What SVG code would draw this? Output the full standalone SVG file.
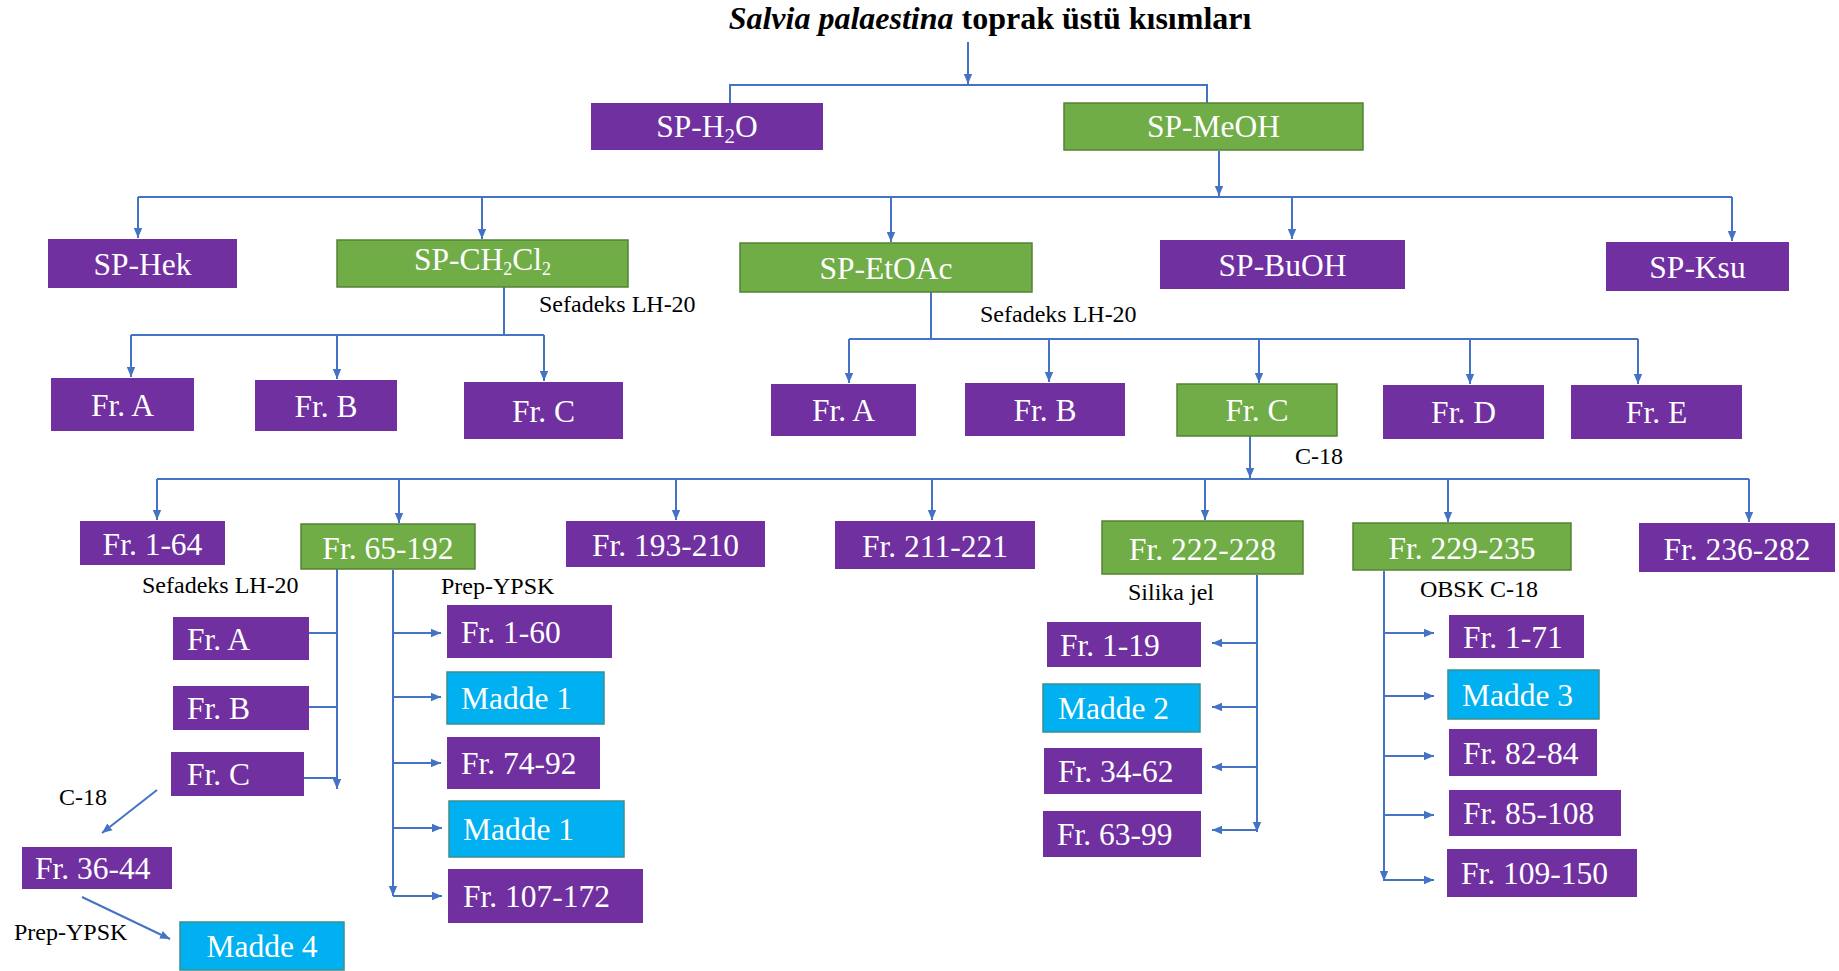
<svg xmlns="http://www.w3.org/2000/svg" width="1839" height="971" viewBox="0 0 1839 971">
<defs>
<marker id="ah" markerWidth="10" markerHeight="10" refX="10" refY="5" orient="auto" markerUnits="userSpaceOnUse"><path d="M0,0.8 L10,5 L0,9.2 z" fill="#4472C4"/></marker>
<style>
.p{fill:#7030A0}
.g{fill:#70AD47;stroke:#548235;stroke-width:1.5}
.c{fill:#00B0F0;stroke:#3d8f8f;stroke-width:1.5}
.t{font-family:"Liberation Serif","Times New Roman",serif;font-size:31.5px;fill:#ffffff}
.m{text-anchor:middle}
.l{font-family:"Liberation Serif","Times New Roman",serif;font-size:24px;fill:#000000}
.ln{stroke:#4472C4;stroke-width:2;fill:none}
.a{marker-end:url(#ah)}
</style>
</defs>
<rect width="1839" height="971" fill="#ffffff"/>
<g id="title"><text x="990" y="29" class="m" style="font-family:'Liberation Serif','Times New Roman',serif;font-size:32px;font-weight:bold;fill:#000"><tspan font-style="italic">Salvia palaestina</tspan> toprak üstü kısımları</text></g>
<g id="connectors">
<path class="ln a" d="M968,42 V84"/>
<path class="ln" d="M730,103 V85 H1207 V103"/>
<path class="ln a" d="M1219,151 V196"/>
<path class="ln" d="M138,197 H1732"/>
<path class="ln a" d="M138,197 V238"/>
<path class="ln a" d="M482,197 V239"/>
<path class="ln a" d="M891,197 V242"/>
<path class="ln a" d="M1292,197 V239"/>
<path class="ln a" d="M1732,197 V241"/>
<path class="ln" d="M504,287 V335 M131,335 H544"/>
<path class="ln a" d="M131,335 V377"/>
<path class="ln a" d="M337,335 V379"/>
<path class="ln a" d="M544,335 V381"/>
<path class="ln" d="M931,292 V339 M849,339 H1638"/>
<path class="ln a" d="M849,339 V383"/>
<path class="ln a" d="M1049,339 V382"/>
<path class="ln a" d="M1259,339 V383"/>
<path class="ln a" d="M1470,339 V384"/>
<path class="ln a" d="M1638,339 V384"/>
<path class="ln a" d="M1250,436 V478"/>
<path class="ln" d="M157,479 H1749"/>
<path class="ln a" d="M157,479 V520"/>
<path class="ln a" d="M399,479 V523"/>
<path class="ln a" d="M676,479 V520"/>
<path class="ln a" d="M932,479 V520"/>
<path class="ln a" d="M1205,479 V520"/>
<path class="ln a" d="M1448,479 V522"/>
<path class="ln a" d="M1749,479 V522"/>
<path class="ln a" d="M337,569 V789"/>
<path class="ln" d="M309,633 H337 M309,707 H337 M304,778 H337"/>
<path class="ln a" d="M393,570 V896"/>
<path class="ln a" d="M393,633 H441"/>
<path class="ln a" d="M393,697 H441"/>
<path class="ln a" d="M393,763 H441"/>
<path class="ln a" d="M393,828 H442"/>
<path class="ln a" d="M393,896 H442"/>
<path class="ln a" d="M157,790 L102,833"/>
<path class="ln a" d="M82,897 L170,939"/>
<path class="ln a" d="M1257,575 V832"/>
<path class="ln a" d="M1257,643 H1212"/>
<path class="ln a" d="M1257,707 H1212"/>
<path class="ln a" d="M1257,767 H1212"/>
<path class="ln a" d="M1257,830 H1212"/>
<path class="ln a" d="M1384,571 V881"/>
<path class="ln a" d="M1384,633 H1434"/>
<path class="ln a" d="M1384,696 H1434"/>
<path class="ln a" d="M1384,756 H1434"/>
<path class="ln a" d="M1384,815 H1434"/>
<path class="ln a" d="M1384,880 H1434"/>
</g>
<g id="labels">
<text class="l" x="539" y="312">Sefadeks LH-20</text>
<text class="l" x="980" y="322">Sefadeks LH-20</text>
<text class="l" x="1295" y="464">C-18</text>
<text class="l" x="142" y="593">Sefadeks LH-20</text>
<text class="l" x="441" y="594">Prep-YPSK</text>
<text class="l" x="1128" y="600">Silika jel</text>
<text class="l" x="1420" y="597">OBSK C-18</text>
<text class="l" x="59" y="805">C-18</text>
<text class="l" x="14" y="940">Prep-YPSK</text>
</g>
<g id="sp-h2o"><rect class="p" x="591" y="103" width="232" height="47"/><text class="t m" x="707" y="137">SP-H<tspan font-size="21" dy="6">2</tspan><tspan dy="-6">O</tspan></text></g>
<g id="sp-meoh"><rect class="g" x="1064" y="103" width="299" height="47"/><text class="t m" x="1213.5" y="137">SP-MeOH</text></g>
<g id="sp-hek"><rect class="p" x="48" y="239" width="189" height="49"/><text class="t m" x="142.5" y="275">SP-Hek</text></g>
<g id="sp-ch2cl2"><rect class="g" x="337" y="240" width="291" height="47"/><text class="t m" x="482.5" y="270" font-size="26">SP-CH<tspan font-size="18" dy="5">2</tspan><tspan dy="-5">Cl</tspan><tspan font-size="18" dy="5">2</tspan></text></g>
<g id="sp-etoac"><rect class="g" x="740" y="243" width="292" height="49"/><text class="t m" x="886" y="279">SP-EtOAc</text></g>
<g id="sp-buoh"><rect class="p" x="1160" y="240" width="245" height="49"/><text class="t m" x="1282.5" y="276">SP-BuOH</text></g>
<g id="sp-ksu"><rect class="p" x="1606" y="242" width="183" height="49"/><text class="t m" x="1697.5" y="278">SP-Ksu</text></g>
<g id="ch-fr-a"><rect class="p" x="51" y="378" width="143" height="53"/><text class="t m" x="122.5" y="416">Fr. A</text></g>
<g id="ch-fr-b"><rect class="p" x="255" y="380" width="142" height="51"/><text class="t m" x="326" y="417">Fr. B</text></g>
<g id="ch-fr-c"><rect class="p" x="464" y="382" width="159" height="57"/><text class="t m" x="543.5" y="422">Fr. C</text></g>
<g id="et-fr-a"><rect class="p" x="771" y="384" width="145" height="52"/><text class="t m" x="843.5" y="421">Fr. A</text></g>
<g id="et-fr-b"><rect class="p" x="965" y="383" width="160" height="53"/><text class="t m" x="1045" y="421">Fr. B</text></g>
<g id="et-fr-c"><rect class="g" x="1177" y="384" width="160" height="52"/><text class="t m" x="1257" y="421">Fr. C</text></g>
<g id="et-fr-d"><rect class="p" x="1383" y="385" width="161" height="54"/><text class="t m" x="1463.5" y="423">Fr. D</text></g>
<g id="et-fr-e"><rect class="p" x="1571" y="385" width="171" height="54"/><text class="t m" x="1656.5" y="423">Fr. E</text></g>
<g id="fr-1-64"><rect class="p" x="80" y="521" width="145" height="44"/><text class="t m" x="152.5" y="555">Fr. 1-64</text></g>
<g id="fr-65-192"><rect class="g" x="301" y="524" width="174" height="45"/><text class="t m" x="388" y="559">Fr. 65-192</text></g>
<g id="fr-193-210"><rect class="p" x="566" y="521" width="199" height="46"/><text class="t m" x="665.5" y="556">Fr. 193-210</text></g>
<g id="fr-211-221"><rect class="p" x="835" y="521" width="200" height="48"/><text class="t m" x="935" y="557">Fr. 211-221</text></g>
<g id="fr-222-228"><rect class="g" x="1102" y="521" width="201" height="53"/><text class="t m" x="1202.5" y="560">Fr. 222-228</text></g>
<g id="fr-229-235"><rect class="g" x="1353" y="523" width="218" height="47"/><text class="t m" x="1462" y="559">Fr. 229-235</text></g>
<g id="fr-236-282"><rect class="p" x="1639" y="523" width="196" height="49"/><text class="t m" x="1737" y="560">Fr. 236-282</text></g>
<g id="s-fr-a"><rect class="p" x="173" y="617" width="136" height="43"/><text class="t" x="187" y="650">Fr. A</text></g>
<g id="s-fr-b"><rect class="p" x="173" y="686" width="136" height="44"/><text class="t" x="187" y="719">Fr. B</text></g>
<g id="s-fr-c"><rect class="p" x="171" y="752" width="133" height="44"/><text class="t" x="187" y="785">Fr. C</text></g>
<g id="fr-36-44"><rect class="p" x="22" y="847" width="150" height="42"/><text class="t" x="35" y="879">Fr. 36-44</text></g>
<g id="madde-4"><rect class="c" x="180" y="922" width="164" height="48"/><text class="t m" x="262" y="957">Madde 4</text></g>
<g id="fr-1-60"><rect class="p" x="447" y="605" width="165" height="53"/><text class="t" x="461" y="643">Fr. 1-60</text></g>
<g id="madde-1a"><rect class="c" x="447" y="672" width="157" height="52"/><text class="t" x="461" y="709">Madde 1</text></g>
<g id="fr-74-92"><rect class="p" x="447" y="737" width="153" height="52"/><text class="t" x="461" y="774">Fr. 74-92</text></g>
<g id="madde-1b"><rect class="c" x="449" y="801" width="175" height="56"/><text class="t" x="463" y="840">Madde 1</text></g>
<g id="fr-107-172"><rect class="p" x="448" y="869" width="195" height="54"/><text class="t" x="463" y="907">Fr. 107-172</text></g>
<g id="fr-1-19"><rect class="p" x="1047" y="622" width="154" height="45"/><text class="t" x="1060" y="656">Fr. 1-19</text></g>
<g id="madde-2"><rect class="c" x="1043" y="684" width="157" height="48"/><text class="t" x="1058" y="719">Madde 2</text></g>
<g id="fr-34-62"><rect class="p" x="1044" y="748" width="158" height="46"/><text class="t" x="1058" y="782">Fr. 34-62</text></g>
<g id="fr-63-99"><rect class="p" x="1043" y="811" width="158" height="46"/><text class="t" x="1057" y="845">Fr. 63-99</text></g>
<g id="fr-1-71"><rect class="p" x="1449" y="615" width="135" height="43"/><text class="t" x="1463" y="648">Fr. 1-71</text></g>
<g id="madde-3"><rect class="c" x="1448" y="670" width="151" height="49"/><text class="t" x="1462" y="706">Madde 3</text></g>
<g id="fr-82-84"><rect class="p" x="1449" y="729" width="148" height="47"/><text class="t" x="1463" y="764">Fr. 82-84</text></g>
<g id="fr-85-108"><rect class="p" x="1449" y="790" width="172" height="46"/><text class="t" x="1463" y="824">Fr. 85-108</text></g>
<g id="fr-109-150"><rect class="p" x="1447" y="849" width="190" height="48"/><text class="t" x="1461" y="884">Fr. 109-150</text></g>
</svg>
